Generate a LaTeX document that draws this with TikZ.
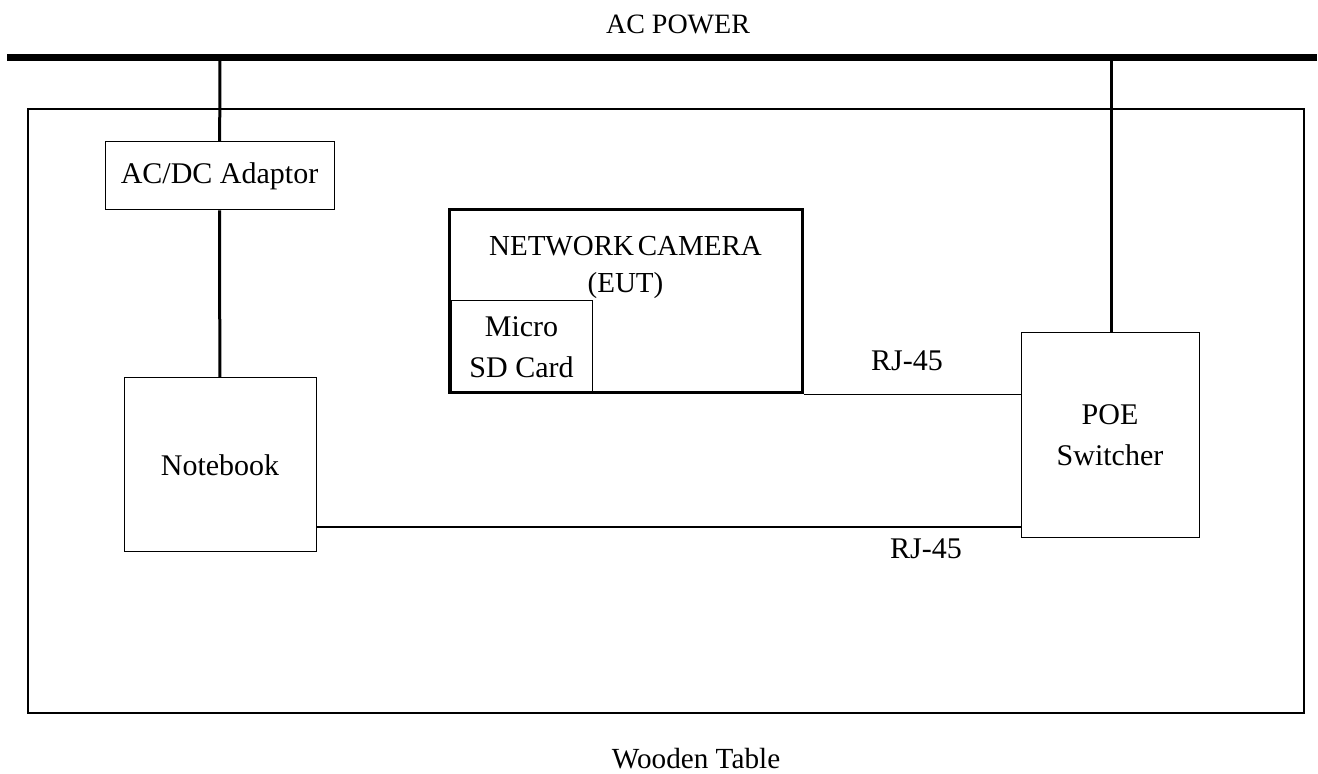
\documentclass[tikz,border=0pt]{standalone}
\usepackage{fontspec}
\setmainfont{Liberation Serif}
\usepackage{tikz}

\tikzset{
	unit/.style={draw, line width=0.5pt, align=center, inner sep=0pt},
	power/.style={line width=1.5pt},
	cable/.style={line width=0.7pt}
}

\begin{document}
\begin{tikzpicture}[x=0.5pt, y=-0.5pt, font=\fontsize{15}{20.5}\selectfont]
				\useasboundingbox (0,0) rectangle (1318,774);
				\node [font=\fontsize{14}{19}\selectfont] (acpower) at (678,24) {AC POWER};
				\coordinate (busL) at (7,58);
				\coordinate (busR) at (1317,58);
				\draw [line width=3.5pt] (busL) -- (busR);
				\draw [line width=0.8pt] (28,109) rectangle (1304,713);
				\node [font=\fontsize{14.6}{19}\selectfont] (table) at (696,759) {Wooden Table};
				\node [unit, minimum width=114.5pt, minimum height=34pt] (acdc) at (219.5,176) {AC/DC Adaptor};
				\node [unit, minimum width=96pt, minimum height=87pt] (notebook) at (220,465) {Notebook};
				\node [unit, line width=1.5pt, minimum width=176.5pt, minimum height=91.5pt] (camera) at (625.5,301.5) {};
				\node [align=center, font=\fontsize{14.5}{18.5}\selectfont] (camtext) at (625.5,267) {NETWORK\hspace{-0.12em} CAMERA\\(EUT)};
				\node [unit, minimum width=70.5pt, minimum height=46pt] (sdcard) at (521.5,347) {Micro\\SD Card};
				\node [unit, minimum width=89pt, minimum height=102.5pt] (poe) at (1110,435.5) {POE\\Switcher};
				\coordinate (tapA) at (220,58);
				\coordinate (tapB) at (1111,58);
				\coordinate (lanB) at (700,527);
				\draw [power] (tapA) -- (acdc);
				\draw [power] (acdc) -- (notebook);
				\draw [power] (tapB) -- (poe.north -| tapB);
				\draw [cable] (camera.south east) -- (poe.west |- camera.south east);
				\draw [cable] (notebook.east |- lanB) -- (poe.west |- lanB);
				\node (rjA) at (907,361) {RJ-45};
				\node (rjB) at (926,549) {RJ-45};
				\end{tikzpicture}
\end{document}
